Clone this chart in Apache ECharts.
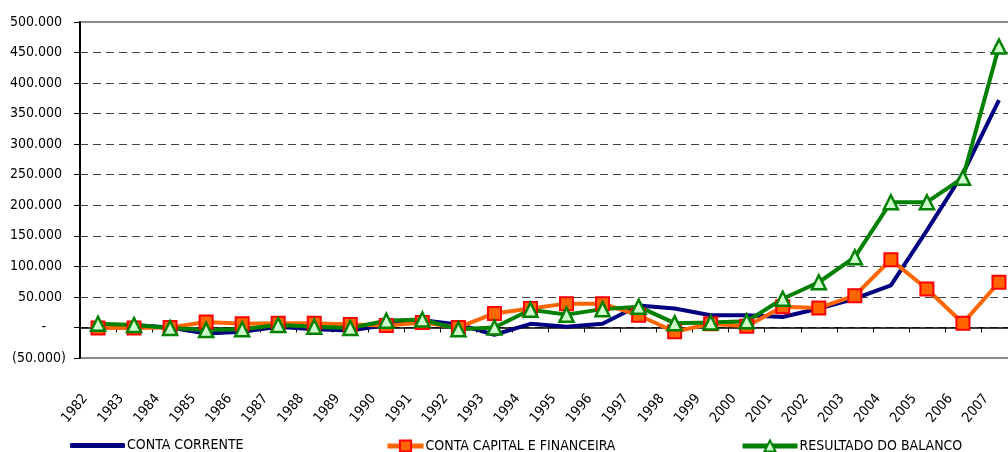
<!DOCTYPE html>
<html>
<head>
<meta charset="utf-8">
<script src="https://cdn.jsdelivr.net/npm/echarts@6/dist/echarts.min.js"></script>
<style>
html,body{margin:0;padding:0;background:#fff;overflow:hidden;width:1008px;height:452px;}
#c{width:1017px;height:452px;}
</style>
</head>
<body>
<div id="c"></div>
<script>
var years = ['1982','1983','1984','1985','1986','1987','1988','1989','1990','1991','1992','1993','1994','1995','1996','1997','1998','1999','2000','2001','2002','2003','2004','2005','2006','2007'];
var contaCorrente = [4000, 4000, 0, -10000, -7000, 1000, -3000, -5000, 4000, 12000, 5000, -12000, 6000, 1000, 6000, 36000, 31000, 20000, 20000, 17000, 31000, 47000, 69000, 159000, 252000, 372000];
var contaCapital = [-1000, -1000, 0, 9000, 6000, 7000, 7000, 5000, 3000, 8000, 0, 23000, 31000, 39000, 39000, 20000, -7000, 6000, 2000, 34000, 32000, 52000, 111000, 63000, 7000, 74000];
var resultado = [6000, 4000, -1000, -4000, -3000, 4000, 1000, -1000, 11000, 13000, -3000, 0, 29000, 21000, 30000, 34000, 7000, 8000, 10000, 47000, 74000, 115000, 205000, 205000, 245000, 460000];
var seriesNames = ['CONTA CORRENTE', 'CONTA CAPITAL E FINANCEIRA', 'RESULTADO DO BALANCO'];

function fmt(v) {
  if (v === 0) return '-     ';
  var s = Math.abs(v).toString().replace(/\B(?=(\d{3})+(?!\d))/g, '.');
  return v < 0 ? '(' + s + ')' : s + ' ';
}

var FONT = '"DejaVu Sans Condensed", "Open Sans", sans-serif';
var legendText = {fontFamily: FONT, fontSize: 14, color: '#000', padding: [0,0,0,-3]};
var chart = echarts.init(document.getElementById('c'), null, {renderer: 'canvas'});
chart.setOption({
  animation: false,
  backgroundColor: '#ffffff',
  textStyle: {fontFamily: FONT},
  grid: {left: 80, right: 0, top: 22, bottom: 94, show: true, borderColor: '#8c8c8c', borderWidth: 2, backgroundColor: 'transparent'},
  legend: [
    {data: [{name: seriesNames[0], icon: 'roundRect'}], left: 70, top: 438.5, padding: 0, itemWidth: 55, itemHeight: 5, itemGap: 0,
     textStyle: legendText},
    {data: [seriesNames[1]], left: 385, top: 439, padding: 0, itemWidth: 36, itemHeight: 14, itemGap: 0,
     lineStyle: {width: 5}, textStyle: legendText},
    {data: [seriesNames[2]], left: 740, top: 439, padding: 0, itemWidth: 55, itemHeight: 14, itemGap: 0,
     lineStyle: {width: 5}, textStyle: legendText}
  ],
  xAxis: [
    {
      type: 'category', data: years, position: 'bottom',
      axisLine: {show: false, onZero: false},
      axisTick: {show: false},
      axisLabel: {rotate: 50, margin: 23, padding: [0, 20, 0, 0], fontSize: 14, color: '#000', fontFamily: FONT, interval: 0},
      splitLine: {show: false}
    },
    {
      type: 'category', data: years, position: 'top',
      axisLine: {show: true, onZero: true, lineStyle: {color: '#000', width: 1.5}},
      axisTick: {show: true, inside: true, length: 5, lineStyle: {color: '#000', width: 1}},
      axisLabel: {show: false},
      splitLine: {show: false}
    }
  ],
  yAxis: {
    type: 'value', min: -50000, max: 500000, interval: 50000,
    axisLine: {show: true, lineStyle: {color: '#000', width: 2}},
    axisTick: {show: true, length: 6, lineStyle: {color: '#000'}},
    axisLabel: {formatter: fmt, fontSize: 14, color: '#000', fontFamily: FONT, margin: 14},
    splitLine: {show: true, showMinLine: false, showMaxLine: false, lineStyle: {color: '#444', type: [8, 5], width: 1}}
  },
  series: [
    {
      name: seriesNames[0], type: 'line', data: contaCorrente, xAxisIndex: 0,
      symbol: 'none', showSymbol: false,
      lineStyle: {color: '#000080', width: 4},
      itemStyle: {color: '#000080'}
    },
    {
      name: seriesNames[1], type: 'line', data: contaCapital, xAxisIndex: 0,
      symbol: 'rect', symbolSize: 13, showSymbol: true,
      lineStyle: {color: '#FF6600', width: 4},
      itemStyle: {color: '#FF6600', borderColor: '#FF0000', borderWidth: 2}
    },
    {
      name: seriesNames[2], type: 'line', data: resultado, xAxisIndex: 0,
      symbol: 'triangle', symbolSize: 14, showSymbol: true,
      lineStyle: {color: '#008000', width: 4},
      itemStyle: {color: '#CCFFCC', borderColor: '#008000', borderWidth: 2.5}
    }
  ]
});
</script>
</body>
</html>
